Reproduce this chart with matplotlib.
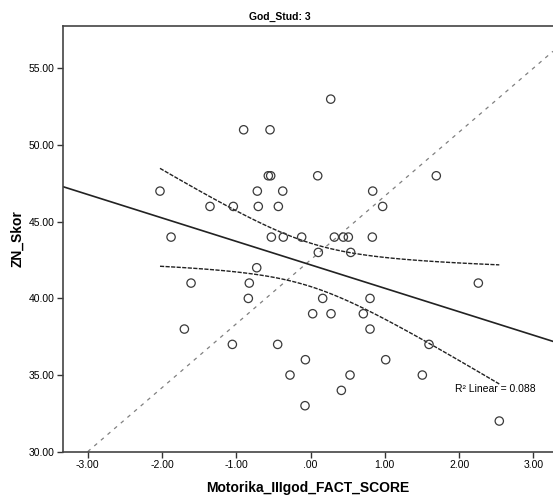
import numpy as np
import matplotlib.pyplot as plt

plt.rcParams['font.family'] = ['Liberation Sans', 'DejaVu Sans']

# scores
motorika = [-0.90, -0.545, -0.568, -0.536, -2.026, -0.716, -0.374, -1.353, -1.039,
            -0.703, -0.433, -1.877, -0.527, -0.366, -0.119, -0.724, 0.272, 0.097,
            1.693, 0.837, 0.971, 0.321, 0.442, 0.509, 0.832, 0.105, 0.541, -1.608,
            -0.824, -0.837, -1.698, -1.052, -0.442, -0.069, -0.276, -0.074, 2.259,
            0.164, 0.801, 0.029, 0.276, 0.711, 0.801, 1.595, 1.012, 0.532, 1.505,
            0.415, 2.541]
zn_skor = [51, 51, 48, 48, 47, 47, 47, 46, 46,
           46, 46, 44, 44, 44, 44, 42, 53, 48,
           48, 47, 46, 44, 44, 44, 44, 43, 43, 41,
           41, 40, 38, 37, 37, 36, 35, 33, 41,
           40, 40, 39, 39, 39, 38, 37, 36, 35, 35,
           34, 32]

x_ticks = [-3, -2, -1, 0, 1, 2, 3]
y_ticks = [30, 35, 40, 45, 50, 55]
r2_text = "R² Linear = 0.088"

x = np.array(motorika)
y = np.array(zn_skor)

fig = plt.figure(figsize=(5.53, 4.99), dpi=100)
ax = fig.add_axes([0.114, 0.0948, 0.886, 0.8537])
xmin, xmax = -3.331, 3.264
ymin, ymax = 30, 57.79

# diagonal reference line
ax.plot([-3, xmax], [30, 30 + 4.17 * (xmax + 3)], color='#808080', lw=0.9,
        ls=(0, (3, 4)), zorder=1)

# linear fit and mean confidence band
b, a = np.polyfit(x, y, 1)
xs = np.linspace(xmin, xmax, 100)
ax.plot(xs, a + b * xs, color='#222222', lw=1.2, zorder=2)

n = len(x)
resid = y - (a + b * x)
s = np.sqrt(np.sum(resid ** 2) / (n - 2))
xc = np.linspace(x.min(), x.max(), 100)
se = s * np.sqrt(1 / n + (xc - x.mean()) ** 2 / np.sum((x - x.mean()) ** 2))
t = 2.012
yc = a + b * xc
ax.plot(xc, yc + t * se, color='#222222', lw=1.0, ls=(0, (3, 1)), zorder=2)
ax.plot(xc, yc - t * se, color='#222222', lw=1.0, ls=(0, (3, 1)), zorder=2)

ax.scatter(x, y, s=36, facecolors='none', edgecolors='#3a3a3a', linewidths=0.9, zorder=3)

ax.text(1.945, 34.09, r2_text, fontsize=7.5, va='center', ha='left')

ax.set_xlim(xmin, xmax)
ax.set_ylim(ymin, ymax)
ax.set_xticks(x_ticks)
ax.set_yticks(y_ticks)
fmt = lambda v: '.00' if v == 0 else '%.2f' % v
ax.set_xticklabels([fmt(v) for v in x_ticks])
ax.set_yticklabels([fmt(v) for v in y_ticks])
ax.tick_params(labelsize=7.5, length=4, width=1, color='#333333', pad=2)

ax.spines['right'].set_visible(False)
for side in ['left', 'bottom', 'top']:
    ax.spines[side].set_color('#444444')
    ax.spines[side].set_linewidth(1.2)

ax.set_xlabel("Motorika_IIIgod_FACT_SCORE", fontsize=10, fontweight='bold', labelpad=8)
ax.set_ylabel("ZN_Skor", fontsize=10, fontweight='bold', labelpad=3)
fig.text(280 / 553, 1 - 17 / 499, "God_Stud: 3", fontsize=7.5, fontweight='bold',
         ha='center', va='center')

fig.savefig('out.png', dpi=100)
